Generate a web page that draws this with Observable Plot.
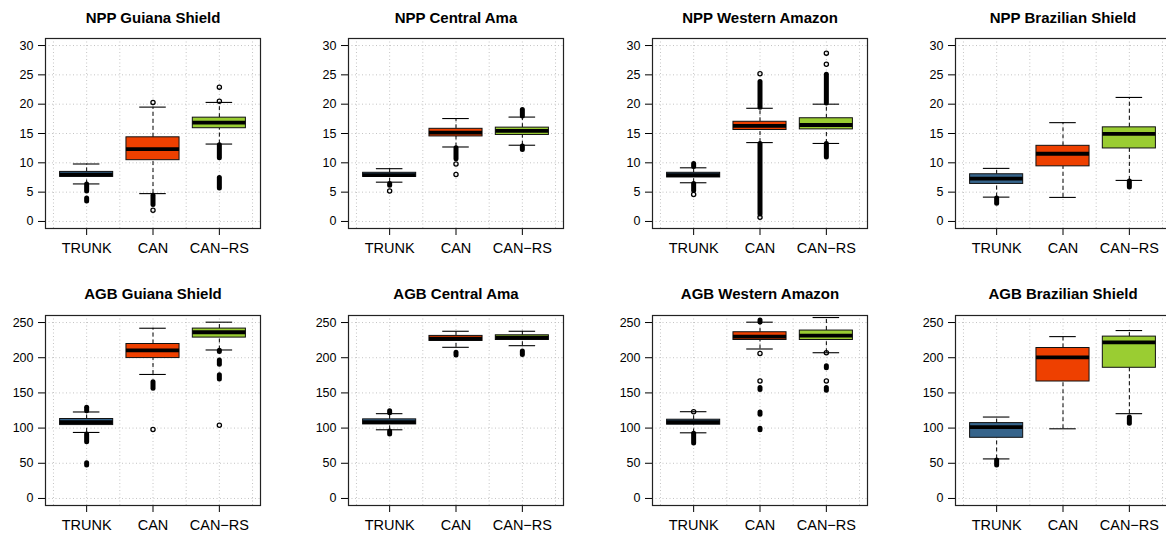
<!DOCTYPE html>
<html><head><meta charset="utf-8">
<script src="https://cdn.jsdelivr.net/npm/d3@7"></script>
<script src="https://cdn.jsdelivr.net/npm/@observablehq/plot@0.6"></script>
<style>
html,body{margin:0;padding:0;background:#fff;overflow:hidden;width:1166px;height:535px;}
#wrap{position:relative;width:1166px;height:535px;overflow:hidden;}
.panel{position:absolute;width:303px;height:263px;}
.panel svg{max-width:none !important;width:303px;height:263px;}
</style></head><body><div id="wrap"></div>
<script>
// ---- data ----
const categories = ["TRUNK", "CAN", "CAN-RS"];
const nppTicks = [0, 5, 10, 15, 20, 25, 30];
const agbTicks = [0, 50, 100, 150, 200, 250];

// box stats per category: [lower whisker, Q1, median, Q3, upper whisker]
const nppGuianaStats  = [[6.4, 7.6, 8.0, 8.45, 9.8], [4.75, 10.45, 12.35, 14.35, 19.5], [13.2, 15.9, 16.85, 17.7, 20.3]];
const nppCentralStats = [[6.7, 7.6, 7.9, 8.3, 9.0], [12.7, 14.5, 15.15, 15.8, 17.55], [13.0, 14.75, 15.45, 16.0, 17.8]];
const nppWesternStats = [[6.6, 7.5, 7.9, 8.3, 9.15], [13.45, 15.6, 16.3, 17.0, 19.3], [13.3, 15.7, 16.45, 17.6, 20.0]];
const nppBrazilStats  = [[4.15, 6.4, 7.3, 8.05, 9.05], [4.1, 9.4, 11.55, 12.9, 16.85], [7.0, 12.45, 14.95, 16.05, 21.15]];
const agbGuianaStats  = [[93.8, 104.3, 108.6, 112.9, 122.9], [176.2, 199.5, 210.5, 219.5, 241.9], [211, 228.6, 236.2, 241.4, 250.5]];
const agbCentralStats = [[97.6, 105.2, 108.6, 112.4, 120.5], [214.8, 223.8, 227.1, 231, 237.6], [217.1, 225.2, 228.6, 231.9, 237.6]];
const agbWesternStats = [[93.3, 104.8, 108.6, 111.9, 123.3], [212.4, 225.2, 230, 236.2, 250.5], [207.1, 225.2, 231.4, 238.6, 257.1]];
const agbBrazilStats  = [[56.2, 86.2, 101.4, 107.1, 115.7], [99, 166.2, 200.5, 213.8, 230], [120.5, 185.7, 221.9, 230, 238.6]];

// single outliers: [category, value]
const nppGuianaPoints  = [["CAN", 20.3], ["CAN", 1.9], ["CAN-RS", 20.5], ["CAN-RS", 22.9]];
const nppCentralPoints = [["TRUNK", 5.2], ["CAN", 9.8], ["CAN", 8.0]];
const nppWesternPoints = [["TRUNK", 4.6], ["CAN", 25.2], ["CAN", 0.7], ["CAN-RS", 26.8], ["CAN-RS", 28.7]];
const nppBrazilPoints  = [];
const agbGuianaPoints  = [["CAN", 98], ["CAN-RS", 104]];
const agbCentralPoints = [];
const agbWesternPoints = [["TRUNK", 123.3], ["CAN", 206], ["CAN", 167], ["CAN-RS", 207], ["CAN-RS", 167]];
const agbBrazilPoints  = [];

// dense runs of overlapping outliers: [category, from, to]
const nppGuianaRuns  = [["TRUNK", 5.1, 6.3], ["TRUNK", 3.4, 3.9], ["CAN", 2.8, 4.4], ["CAN-RS", 10.8, 13.0], ["CAN-RS", 5.6, 7.4]];
const nppCentralRuns = [["TRUNK", 6.1, 6.4], ["CAN", 10.6, 12.5], ["CAN-RS", 17.9, 19.0], ["CAN-RS", 12.2, 12.8]];
const nppWesternRuns = [["TRUNK", 9.3, 9.8], ["TRUNK", 5.2, 6.4], ["CAN", 19.4, 23.8], ["CAN", 1.2, 13.2], ["CAN-RS", 20.1, 25.0], ["CAN-RS", 10.9, 13.2]];
const nppBrazilRuns  = [["TRUNK", 3.0, 3.9], ["CAN-RS", 5.8, 6.8]];
const agbGuianaRuns  = [["TRUNK", 124, 129], ["TRUNK", 80, 91], ["TRUNK", 47, 50], ["CAN", 156, 165], ["CAN-RS", 208, 210], ["CAN-RS", 190, 196], ["CAN-RS", 169, 175]];
const agbCentralRuns = [["TRUNK", 121, 124], ["TRUNK", 91, 95], ["CAN", 203, 207], ["CAN-RS", 204, 209]];
const agbWesternRuns = [["TRUNK", 78, 92], ["CAN", 250, 253], ["CAN", 154, 157], ["CAN", 119, 122], ["CAN", 97, 99], ["CAN-RS", 185, 188], ["CAN-RS", 153, 157]];
const agbBrazilRuns  = [["TRUNK", 47, 54], ["CAN-RS", 106, 115]];

const titles = ["NPP Guiana Shield", "NPP Central Ama", "NPP Western Amazon", "NPP Brazilian Shield",
                "AGB Guiana Shield", "AGB Central Ama", "AGB Western Amazon", "AGB Brazilian Shield"];

// ---- styles ----
const boxColors = ["#36648B", "#EE4000", "#9ACD32"];

const panels = [
  {stats: nppGuianaStats, points: nppGuianaPoints, runs: nppGuianaRuns},
  {stats: nppCentralStats, points: nppCentralPoints, runs: nppCentralRuns},
  {stats: nppWesternStats, points: nppWesternPoints, runs: nppWesternRuns},
  {stats: nppBrazilStats, points: nppBrazilPoints, runs: nppBrazilRuns},
  {stats: agbGuianaStats, points: agbGuianaPoints, runs: agbGuianaRuns},
  {stats: agbCentralStats, points: agbCentralPoints, runs: agbCentralRuns},
  {stats: agbWesternStats, points: agbWesternPoints, runs: agbWesternRuns},
  {stats: agbBrazilStats, points: agbBrazilPoints, runs: agbBrazilRuns}
].map((p, i) => ({...p, title: titles[i], row: Math.floor(i / 4), col: i % 4}));

function expand(ticks) {
  const lo = ticks[0], hi = ticks[ticks.length - 1], pad = (hi - lo) * 0.04;
  return [lo - pad, hi + pad];
}

function panel(p) {
  const ticks = p.row === 0 ? nppTicks : agbTicks;
  const n = categories.length;
  const stats = p.stats.map((s, i) => ({pos: i + 1, lo: s[0], q1: s[1], med: s[2], q3: s[3], hi: s[4], color: boxColors[i]}));
  const pts = p.points.map(([c, v]) => ({pos: categories.indexOf(c) + 1, v}));
  const runs = p.runs.map(([c, a, b]) => ({pos: categories.indexOf(c) + 1, a, b}));
  const gridX = d3.range(0.5, n + 0.75, 0.5);
  const grid = {stroke: "#c4c4c4", strokeDasharray: "1,2.5", strokeWidth: 1};
  const xPad = n * 0.04;
  const svg = Plot.plot({
    width: 303, height: 263,
    marginLeft: 45, marginRight: 43, marginTop: 38, marginBottom: 35,
    style: {fontFamily: "'Liberation Sans', Arial, Helvetica, sans-serif", fontSize: "12.5px", color: "#000", background: "transparent", overflow: "visible"},
    x: {type: "linear", domain: [0.5 - xPad, n + 0.5 + xPad], ticks: d3.range(1, n + 1), tickFormat: d => categories[d - 1].replace("-", "\u2212"), tickSize: 7, tickPadding: 7, label: null},
    y: {domain: expand(ticks), ticks: ticks, tickSize: 7, tickPadding: 5, label: null},
    color: {type: "identity"},
    marks: [
      Plot.ruleY(ticks, grid),
      Plot.ruleX(gridX, grid),
      Plot.ruleX(stats, {x: "pos", y1: "q3", y2: "hi", stroke: "#000", strokeDasharray: "4,3"}),
      Plot.ruleX(stats, {x: "pos", y1: "lo", y2: "q1", stroke: "#000", strokeDasharray: "4,3"}),
      Plot.ruleY(stats, {y: "hi", x1: d => d.pos - 0.2, x2: d => d.pos + 0.2, stroke: "#000", strokeWidth: 1.1}),
      Plot.ruleY(stats, {y: "lo", x1: d => d.pos - 0.2, x2: d => d.pos + 0.2, stroke: "#000", strokeWidth: 1.1}),
      Plot.ruleX(runs, {x: "pos", y1: "a", y2: "b", stroke: "#000", strokeWidth: 5, strokeLinecap: "round"}),
      Plot.dot(pts, {x: "pos", y: "v", r: 2.1, stroke: "#000", strokeWidth: 1.3, fill: "none"}),
      Plot.rect(stats, {x1: d => d.pos - 0.4, x2: d => d.pos + 0.4, y1: "q1", y2: "q3", fill: "color", stroke: "#111", strokeWidth: 1}),
      Plot.ruleY(stats, {y: "med", x1: d => d.pos - 0.4, x2: d => d.pos + 0.4, stroke: "#000", strokeWidth: 3.8}),
      Plot.frame({stroke: "#222", strokeWidth: 1.2}),
      Plot.text([p.title], {frameAnchor: "top", dy: p.row === 0 ? -20 : -21, lineAnchor: "middle", fontWeight: "bold", fontSize: 15, fill: "#000"})
    ]
  });
  d3.select(svg).selectAll('g[aria-label^="x-axis"] text').style("font-size", "14.5px");
  return svg;
}

const wrap = document.getElementById("wrap");
for (const p of panels) {
  const div = document.createElement("div");
  div.className = "panel";
  div.style.left = Math.round(p.col * 303.35) + "px";
  div.style.top = (p.row * 277) + "px";
  div.appendChild(panel(p));
  wrap.appendChild(div);
}
</script>
</body></html>
